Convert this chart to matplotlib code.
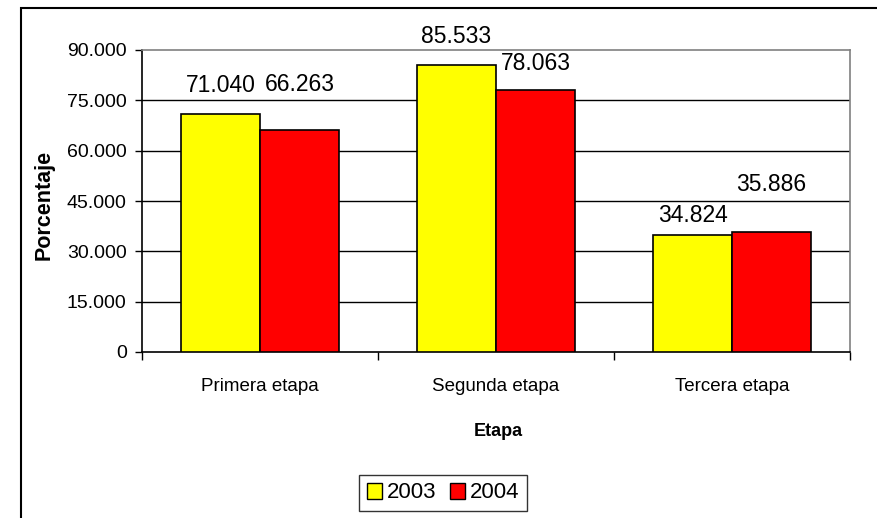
import matplotlib
matplotlib.use("Agg")
import matplotlib.pyplot as plt
import matplotlib.patches as mpatches
import numpy as np

plt.rcParams['font.family'] = ['Liberation Sans', 'DejaVu Sans']

# data
etapas = ['Primera etapa', 'Segunda etapa', 'Tercera etapa']
anios = ['2003', '2004']
valores_2003 = [71.040, 85.533, 34.824]
valores_2004 = [66.263, 78.063, 35.886]
y_ticks = [0, 15, 30, 45, 60, 75, 90]

colores = ['#FFFF00', '#FF0000']

# label lift above each bar top, in pixels (Excel staggers them)
label_lift = [[28, 45], [28, 27], [20, 47]]

fig = plt.figure(figsize=(8.77, 5.18), dpi=100)
ax = fig.add_axes([142/877, 1 - 352/518, 708/877, 302/518])

x = np.arange(len(etapas))
w = 0.335
series = [valores_2003, valores_2004]
for s, (vals, col) in enumerate(zip(series, colores)):
    pos = x + (s - 0.5) * w
    ax.bar(pos, vals, width=w, color=col, edgecolor='black', linewidth=1.2, zorder=3)
    for i, v in enumerate(vals):
        ax.annotate(f'{v:.3f}', (pos[i], v), xytext=(0, label_lift[i][s]),
                    textcoords='offset pixels', ha='center', va='center',
                    fontsize=16.5, zorder=4)

ax.set_xlim(-0.5, len(etapas) - 0.5)
ax.set_ylim(0, 90)
ax.set_yticks(y_ticks)
ax.set_yticklabels(['0' if t == 0 else f'{t:.3f}' for t in y_ticks], fontsize=14)
ax.tick_params(axis='y', direction='out', length=5, width=1, pad=6)

ax.set_xticks(x)
ax.set_xticklabels(etapas, fontsize=13.5)
ax.set_xticks(np.arange(len(etapas) + 1) - 0.5, minor=True)
ax.tick_params(axis='x', which='major', length=0, pad=19)
ax.tick_params(axis='x', which='minor', direction='out', length=6, width=1)

for t in y_ticks[1:-1]:
    ax.axhline(t, color='black', linewidth=1, zorder=1)

ax.spines['top'].set_color('#808080')
ax.spines['right'].set_color('#808080')
ax.spines['left'].set_color('black')
ax.spines['bottom'].set_color('black')
for sp in ax.spines.values():
    sp.set_linewidth(1.2)

fig.text(44/877, 1 - 205/518, 'Porcentaje', rotation=90, ha='center', va='center',
         fontsize=15.5, fontweight='bold')
fig.text(498/877, 1 - 432/518, 'Etapa', ha='center', va='center',
         fontsize=13, fontweight='bold')

handles = [mpatches.Rectangle((0, 0), 1, 1, facecolor=c, edgecolor='black', linewidth=1)
           for c in colores]
leg = fig.legend(handles, anios, loc='center', bbox_to_anchor=(443/877, 1 - 493/518),
                 ncol=2, fontsize=16, frameon=True, fancybox=False,
                 handlelength=0.7, handleheight=0.7, handletextpad=0.2,
                 columnspacing=0.6, borderpad=0.35)
leg.get_frame().set_edgecolor('black')
leg.get_frame().set_linewidth(1)

# outer chart frame (right and bottom run off the picture)
fig.patches.append(mpatches.Rectangle((21/877, -0.1), 1.0, 1.1 - 8/518,
                                      transform=fig.transFigure, fill=False,
                                      edgecolor='black', linewidth=1.5))

fig.savefig('out.png', dpi=100)
